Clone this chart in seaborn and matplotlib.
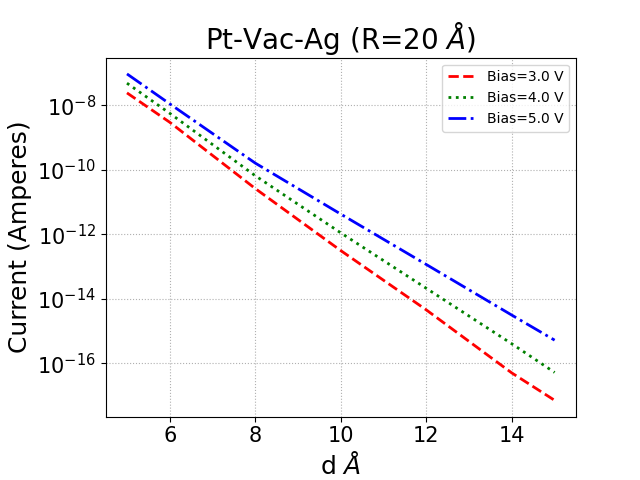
import matplotlib
matplotlib.use("Agg")
import matplotlib.pyplot as plt
import seaborn as sns
import pandas as pd

# distances (Angstrom) and currents
d_vals = [5, 6, 8, 10, 12, 14, 15]
cur_bias3 = [2.4e-8, 2.95e-9, 2.6e-11, 3.1e-13, 4.5e-15, 5.0e-17, 7.1e-18]
cur_bias4 = [4.8e-8, 5.6e-9, 6.5e-11, 1.1e-12, 2.1e-14, 4.0e-16, 5.2e-17]
cur_bias5 = [9.3e-8, 1.1e-8, 1.6e-10, 4.2e-12, 1.15e-13, 3.1e-15, 5.2e-16]

series = [
    ('Bias=3.0 V', cur_bias3, 'red', '--'),
    ('Bias=4.0 V', cur_bias4, 'green', ':'),
    ('Bias=5.0 V', cur_bias5, 'blue', '-.'),
]

fig, ax = plt.subplots(figsize=(6.4, 4.8), dpi=100)
for label, cur, color, ls in series:
    df = pd.DataFrame({'d': d_vals, 'current': cur})
    sns.lineplot(data=df, x='d', y='current', ax=ax, color=color,
                 linestyle=ls, linewidth=2, label=label)

ax.set_yscale('log')
ax.grid(True, linestyle=':', color='#b0b0b0')
ax.set_title(r'Pt-Vac-Ag (R=20 $\AA$)', fontsize=20)
ax.set_xlabel(r'd $\AA$', fontsize=18)
ax.set_ylabel('Current (Amperes)', fontsize=18)
ax.tick_params(labelsize=15)
ax.legend(loc='upper right', fontsize=10)

plt.subplots_adjust(left=0.165, bottom=0.132, right=0.9, top=0.88)
plt.savefig('out.png', dpi=100)
plt.close()
